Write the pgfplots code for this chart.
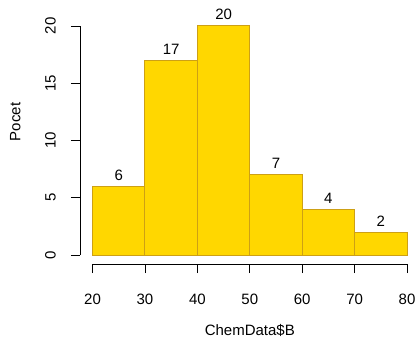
\documentclass[border=0pt]{standalone}
\usepackage{pgfplots}
\pgfplotsset{compat=1.18}
\usepackage{fontspec}
\setmainfont{Liberation Sans}
\definecolor{rgold}{HTML}{FFD700}
\definecolor{rgoldenrod}{HTML}{CDA015}
\begin{document}
\fontsize{15}{18}\selectfont
\begin{tikzpicture}
\useasboundingbox (-80pt,-73.8pt) rectangle (337pt,264.2pt);
\begin{axis}[
  at={(0,0)}, anchor=south west,
  width=339.6pt, height=247.4pt, scale only axis,
  xmin=17.6, xmax=82.4, ymin=-0.8, ymax=20.8,
  axis x line*=bottom, axis y line*=left,
  x axis line style={-, shorten <=12.6pt, shorten >=12.6pt},
  y axis line style={-, shorten <=9.2pt, shorten >=9.2pt},
  axis line style={line width=0.8pt, black},
  xtick={20,30,...,80}, ytick={0,5,...,20},
  tick align=outside, major tick length=9pt,
  tick style={black, line width=0.8pt},
  /pgf/number format/assume math mode=true,
  xticklabel style={anchor=north, inner sep=0pt},
  yticklabel style={rotate=90, anchor=south, inner sep=0pt},
  xticklabel shift=21pt, yticklabel shift=15pt,
  xlabel={ChemData\$B}, ylabel={Pocet},
  xlabel style={at={(axis description cs:0.5,-0.2878)}, anchor=base, inner sep=0pt},
  ylabel style={at={(axis description cs:-0.1755,0.575)}, anchor=base, inner sep=0pt},
  clip=false,
]
\addplot[ybar, bar width=10, bar shift=0pt, fill=rgold, draw=rgoldenrod, line width=1pt,
  nodes near coords, every node near coord/.append style={anchor=south, inner sep=0pt, yshift=5.6pt, black}]
  coordinates {(25,6) (35,17) (45,20) (55,7) (65,4) (75,2)};
\end{axis}
\end{tikzpicture}
\end{document}
